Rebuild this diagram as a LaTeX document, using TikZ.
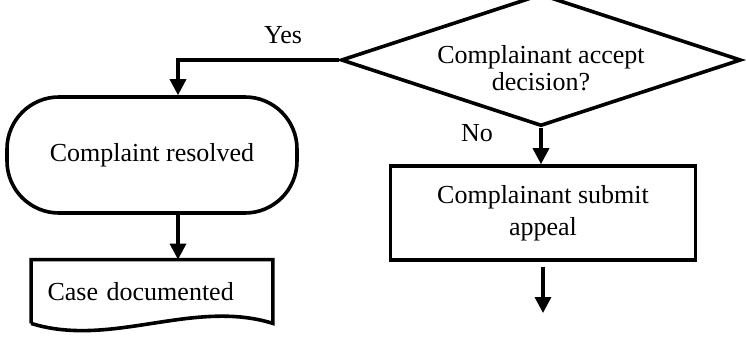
\documentclass[tikz,border=0pt]{standalone}
\usepackage{fontspec}
\setmainfont{Liberation Serif}
\usetikzlibrary{arrows.meta,shapes.geometric}

\begin{document}
\begin{tikzpicture}[x=0.5pt,y=-0.5pt,
  every node/.style={font=\fontsize{13}{16}\selectfont},
  shape line/.style={draw,line width=1.8pt},
  flow/.style={line width=1.7pt,-{Triangle[length=8pt,width=8pt]}}]
  \useasboundingbox (0,0) rectangle (746,338);
  \node[shape line,diamond,aspect=3,inner sep=0pt,minimum width=200pt,minimum height=66pt,align=center,font=\fontsize{13}{13.5}\selectfont] (accept) at (541,60) {\rule{0pt}{17.5pt}Complainant accept\\decision?};
  \node[shape line,rounded corners=26pt,minimum width=145pt,minimum height=58pt] (resolved) at (152,155) {Complaint resolved};
  \node[text width=104.5pt,inner xsep=8pt,minimum height=31.5pt] (documented) at (152,291.5) {Case documented};
  \draw[shape line] (documented.south west) -- (documented.north west) -- (documented.north east) -- (documented.south east) .. controls +(-80,-25) and +(80,25) .. (documented.south west);
  \node[shape line,rectangle,minimum width=152.5pt,minimum height=47pt,align=center] (appeal) at (543,213) {Complainant submit\\appeal};
  \node (yes) at (283,35) {Yes};
  \node (no) at (477,133) {No};
  \coordinate (next) at (543,313);
  \draw[flow] (accept.west) -| ([xshift=13pt]resolved.north);
  \draw[flow] ([xshift=13pt]resolved.south) -- ([xshift=13pt]resolved.south |- documented.north);
  \draw[flow] (accept.south) -- (accept.south |- appeal.north);
  \draw[flow] ([yshift=-2.5pt]appeal.south) -- (appeal.south |- next);
\end{tikzpicture}
\end{document}
